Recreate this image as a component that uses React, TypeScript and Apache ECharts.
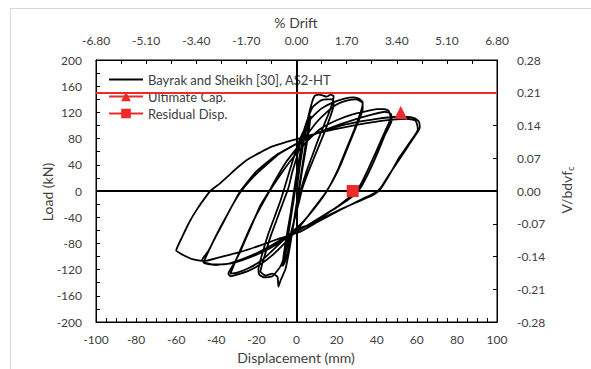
import React, { useEffect, useRef } from "react";
import * as echarts from "echarts";

// Hysteresis trace (displacement mm, load kN), by amplitude level
const level1: number[][] = [
  [0, 0], [1.5, 35], [3, 65], [4.5, 90], [6, 105], [6.5, 108], [5.5, 90], [4, 60], [2.5, 30], [1, 0],
  [-0.5, -30], [-2, -60], [-3.5, -85], [-5, -100], [-6, -108], [-5.5, -95], [-4, -65], [-2.5, -35], [-1, -5],
  [0, 25], [2, 60], [4, 90], [6, 110], [7, 115], [6.5, 100], [5, 70], [3, 35], [1.5, 5],
  [0, -25], [-2, -60], [-4, -90], [-6, -110], [-7, -115], [-6.5, -100], [-5, -70], [-3, -35], [-1.5, -5],
];
const level2: number[][] = [
  [0, 25], [2, 55], [4, 85], [6, 115], [8, 138], [9, 145], [11, 147], [13, 146], [15, 144], [17, 147], [18.5, 145],
  [18, 135], [16, 118], [14, 103], [11, 80], [8, 55], [5, 30], [2.5, 5],
  [0.5, -20], [-1.5, -50], [-3, -80], [-4.5, -105], [-5.5, -119], [-8, -137], [-9, -146], [-9.5, -131], [-12, -126],
  [-15.5, -129], [-18, -123],
  [-16, -100], [-13, -70], [-10, -45], [-7, -20], [-4, 5], [-2, 30], [0, 50], [2, 75], [5, 105], [8, 128], [12, 138],
  [15, 140], [18, 140], [18.5, 130],
  [17, 115], [14, 90], [10, 60], [6, 30], [3, 5], [1, -20], [-2, -55], [-5, -90], [-8, -115], [-12, -130], [-16, -132],
  [-18.5, -128], [-19, -120],
];
const level3: number[][] = [
  [-17, -95], [-14, -65], [-11, -40], [-8, -15], [-5, 15], [-2, 45], [0, 65], [3, 88], [7, 110], [12, 125], [18, 135],
  [24, 141], [28, 143], [31, 141], [33, 136], [33, 125],
  [30, 100], [26, 70], [22, 40], [18, 15], [14, -5], [9, -25], [4, -45], [0, -60], [-6, -80], [-12, -98], [-18, -112],
  [-24, -122], [-30, -128], [-33, -130], [-34, -126],
  [-31, -110], [-28, -92], [-23, -57], [-18, -22], [-14, -2], [-10, 20], [-5, 45], [0, 65], [5, 85], [10, 105], [15, 120],
  [20, 132], [25, 138], [30, 140], [33, 134], [32.5, 125],
  [29, 95], [25, 65], [21, 35], [17, 10], [13, -10], [8, -30], [3, -48], [-3, -65], [-10, -85], [-17, -105], [-24, -118],
  [-30, -125], [-33, -126],
];
const level4: number[][] = [
  [-28, -90], [-23, -55], [-18, -25], [-13, 2], [-8, 25], [-2, 50], [5, 75], [12, 95], [20, 108], [28, 117], [35, 122],
  [40, 125], [44, 125], [46, 122], [47, 112],
  [44, 90], [40, 62], [36, 35], [32, 10], [29, -3], [22, -20], [15, -35], [8, -48], [0, -62], [-8, -78], [-16, -92],
  [-24, -102], [-32, -110], [-40, -113], [-46, -110], [-47, -105],
  [-44, -92], [-40, -68], [-36, -45], [-32, -22], [-28, -2], [-22, 20], [-15, 40], [-8, 58], [0, 72], [10, 88], [20, 100],
  [30, 110], [38, 117], [44, 121], [47, 118], [47.5, 108],
  [44, 85], [40, 55], [36, 28], [32, 5], [28, -8], [20, -25], [12, -40], [4, -55], [-4, -68], [-12, -82], [-20, -95],
  [-28, -105], [-36, -112], [-42, -112], [-46, -108],
];
const level5: number[][] = [
  [-42, -80], [-37, -50], [-32, -22], [-28, 0], [-20, 30], [-10, 55], [0, 72], [10, 88], [20, 98], [30, 105], [40, 110],
  [48, 113], [55, 113], [59, 111], [61, 106], [61.5, 98],
  [61, 93], [56, 70], [51, 47], [46, 24], [42, 5], [39, -3], [33, -12], [25, -24], [18, -35], [10, -48], [2, -62],
  [-8, -72], [-18, -83], [-28, -93], [-38, -101], [-46, -107], [-52, -104], [-57, -97], [-60, -91],
  [-57, -70], [-53, -45], [-49, -25], [-46, -12], [-43, 0], [-38, 12], [-34, 23], [-29, 37], [-24, 49], [-18, 59],
  [-13, 67], [-6, 74], [1, 80], [10, 88], [20, 95], [30, 101], [40, 106], [48, 109], [55, 110], [59, 108], [60, 103],
  [60.5, 94],
  [56, 72], [51, 50], [47, 28], [43, 8], [41, 0], [37, -8], [30, -17], [22, -28], [14, -40], [6, -52], [0, -58],
];

const ultimateCap: number[][] = [[52, 120]];
const residualDisp: number[][] = [[28, 0]];
const capacityLoad = 150;

const dispRange = [-100, 100];
const loadRange = [-200, 200];
const driftPerMm = 0.068; // % drift per mm
const ratioPerKn = 0.0014; // V/bd√f'c per kN

const RED = "#ee2b2b";
const TXT = "#404040";
const FONT = "Lato";
const TEST_NAME = "Bayrak and Sheikh [30], AS2-HT";

export default function App() {
  const ref = useRef<HTMLDivElement>(null);
  useEffect(() => {
    const chart = echarts.init(ref.current!, null, { renderer: "svg" });
    const trace = [...level1, ...level2, ...level3, ...level4, ...level5];
    const tickLine = { lineStyle: { color: "#000", width: 1 } };
    chart.setOption({
      animation: false,
      backgroundColor: "#fff",
      textStyle: { fontFamily: FONT },
      grid: { left: 96, right: 94, top: 60, bottom: 47, show: true, borderColor: "#000", borderWidth: 1 },
      legend: {
        data: [
          { name: TEST_NAME, itemStyle: { opacity: 0 }, lineStyle: { color: "#000", width: 2, opacity: 1 } },
          "Ultimate Cap.",
          "Residual Disp.",
        ],
        orient: "vertical",
        left: 103,
        top: 67,
        itemWidth: 34,
        itemHeight: 12,
        itemGap: 2,
        textStyle: { fontSize: 13, color: TXT, fontFamily: FONT, lineHeight: 15 },
      },
      xAxis: [
        {
          type: "value", min: dispRange[0], max: dispRange[1], interval: 20, position: "bottom",
          axisLine: { onZero: false, lineStyle: { color: "#000", width: 1 } },
          axisTick: { inside: true, length: 4, ...tickLine },
          minorTick: { show: true, splitNumber: 4, length: 4, ...tickLine },
          splitLine: { show: false },
          axisLabel: { color: TXT, fontSize: 12, margin: 11, fontFamily: FONT },
        },
        {
          type: "value", min: dispRange[0], max: dispRange[1], interval: 25, position: "top",
          axisLine: { onZero: false, lineStyle: { color: "#000", width: 1 } },
          axisTick: { inside: true, length: 4, ...tickLine },
          minorTick: { show: true, splitNumber: 2, length: 4, ...tickLine },
          splitLine: { show: false },
          axisLabel: {
            color: TXT, fontSize: 12, margin: 14, fontFamily: FONT,
            formatter: (v: number) => (v * driftPerMm).toFixed(2),
          },
        },
      ],
      yAxis: [
        {
          type: "value", min: loadRange[0], max: loadRange[1], interval: 40, position: "left",
          axisLine: { onZero: false, lineStyle: { color: "#000", width: 1 } },
          axisTick: { inside: true, length: 4, ...tickLine },
          minorTick: { show: true, splitNumber: 2, length: 4, ...tickLine },
          splitLine: { show: false },
          axisLabel: { color: TXT, fontSize: 12, margin: 14, fontFamily: FONT },
        },
        {
          type: "value", min: loadRange[0], max: loadRange[1], interval: 50, position: "right",
          axisLine: { onZero: false, lineStyle: { color: "#000", width: 1 } },
          axisTick: { inside: true, length: 4, ...tickLine },
          splitLine: { show: false },
          axisLabel: {
            color: TXT, fontSize: 12, margin: 20, fontFamily: FONT,
            formatter: (v: number) => (v * ratioPerKn).toFixed(2),
          },
        },
      ],
      series: [
        {
          name: "zero-lines", type: "line", data: [[0, 0]], symbol: "none", silent: true,
          lineStyle: { width: 0 },
          markLine: {
            silent: true, symbol: "none", label: { show: false },
            lineStyle: { color: "#000", width: 2, type: "solid" },
            data: [{ xAxis: 0 }, { yAxis: 0 }],
          },
          z: 1,
        },
        {
          name: TEST_NAME, type: "line", data: trace, symbol: "none", smooth: 0.15,
          lineStyle: { color: "#000", width: 1.8 }, itemStyle: { color: "#000" }, z: 3,
        },
        {
          name: "Ultimate Cap.", type: "line", data: ultimateCap, symbol: "triangle", symbolSize: 13,
          itemStyle: { color: RED }, lineStyle: { color: RED, width: 2 },
          markLine: {
            silent: true, symbol: "none", label: { show: false },
            lineStyle: { color: RED, width: 2, type: "solid" },
            data: [{ yAxis: capacityLoad }],
          },
          z: 5,
        },
        {
          name: "Residual Disp.", type: "line", data: residualDisp, symbol: "rect", symbolSize: 12,
          itemStyle: { color: RED }, lineStyle: { color: RED, width: 2 }, z: 5,
        },
      ],
      graphic: [
        {
          type: "rect", silent: true, z: -10,
          shape: { x: 10.5, y: 8.5, width: 600, height: 400 },
          style: { fill: "none", stroke: "#d9d9d9", lineWidth: 1 },
        },
        {
          type: "text", x: 296, y: 22,
          style: { text: "% Drift", fontSize: 14, fontFamily: FONT, fill: TXT, align: "center", verticalAlign: "middle", textAlign: "center", textVerticalAlign: "middle" },
        },
        {
          type: "text", x: 296, y: 357,
          style: { text: "Displacement (mm)", fontSize: 14, fontFamily: FONT, fill: TXT, align: "center", verticalAlign: "middle", textAlign: "center", textVerticalAlign: "middle" },
        },
        {
          type: "text", x: 47, y: 192, rotation: Math.PI / 2,
          style: { text: "Load (kN)", fontSize: 14, fontFamily: FONT, fill: TXT, align: "center", verticalAlign: "middle", textAlign: "center", textVerticalAlign: "middle" },
        },
        {
          type: "text", x: 566, y: 190, rotation: Math.PI / 2,
          style: {
            text: "{m|V/bdvf}{s|c}", fontFamily: FONT, fill: TXT,
            align: "center", verticalAlign: "middle", textAlign: "center", textVerticalAlign: "middle",
            rich: {
              m: { fontSize: 14, fontFamily: FONT, fill: TXT, color: TXT, lineHeight: 18, verticalAlign: "middle" },
              s: { fontSize: 9, fontFamily: FONT, fill: TXT, color: TXT, lineHeight: 10, verticalAlign: "bottom" },
            },
          },
        },
      ],
    });
    return () => chart.dispose();
  }, []);
  return (
    <div
      ref={ref}
      style={{ position: "absolute", left: 0, top: 0, width: 591, height: 369, background: "#fff" }}
    />
  );
}
